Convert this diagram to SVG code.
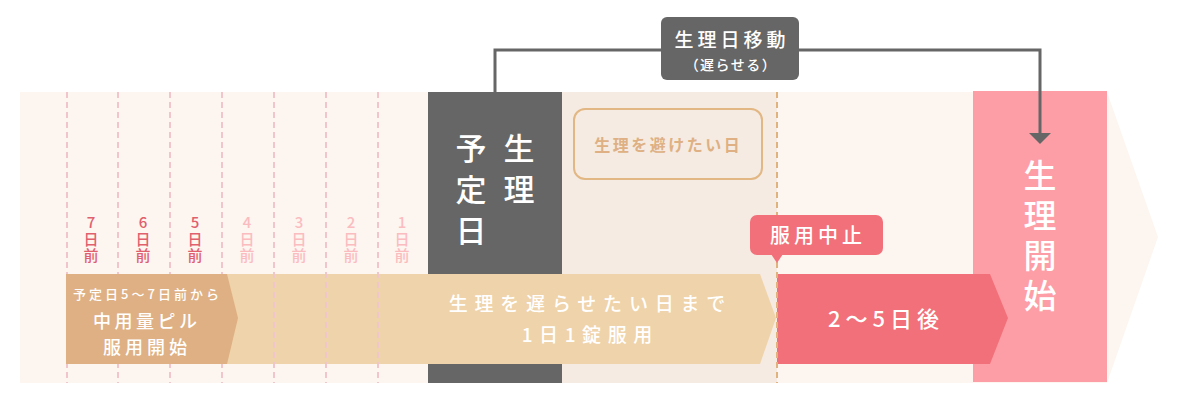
<svg xmlns="http://www.w3.org/2000/svg" width="1180" height="400" viewBox="0 0 1180 400">
<style>
text{font-family:"Noto Sans CJK JP","Noto Sans",sans-serif;}
.w{fill:#ffffff;text-anchor:middle;font-weight:500;}
.v{fill:#ffffff;font-weight:500;writing-mode:vertical-rl;text-orientation:upright;}
.dd{fill:#e0606e;font-size:15px;font-weight:500;writing-mode:vertical-rl;text-orientation:upright;letter-spacing:1.5px;}
.dl{fill:#fbbcc0;font-size:15px;font-weight:500;writing-mode:vertical-rl;text-orientation:upright;letter-spacing:1.5px;}
.dash{stroke:#f0c6cc;stroke-width:2;stroke-dasharray:6 4;fill:none;}
</style>
<rect width="1180" height="400" fill="#ffffff"/>
<g id="background">
<polygon points="20,92 1107,92 1158,237 1107,383 20,383" fill="#fdf5f0"/>
<rect x="562" y="92" width="215" height="291" fill="#f5ebe2"/>
</g>
<g id="scheduled-day">
<rect x="428" y="92" width="134" height="291" fill="#666666"/>
<text class="v" x="471" y="133" font-size="31" letter-spacing="10">予定日</text>
<text class="v" x="519" y="133" font-size="31" letter-spacing="10">生理</text>
</g>
<g id="period-start">
<rect x="973" y="91" width="134" height="291" fill="#fd9ea6"/>
<text class="v" x="1040" y="159" font-size="33" letter-spacing="7">生理開始</text>
</g>
<g id="bar-delay">
<polygon points="66,274 760,274 776,318 760,364 66,364" fill="#efd3aa"/>
<text class="w" x="590.4" y="311" font-size="19" letter-spacing="6.8">生理を遅らせたい日まで</text>
<text class="w" x="590.3" y="342" font-size="19" letter-spacing="6.6">1日1錠服用</text>
</g>
<g id="day-grid">
<line class="dash" x1="67" y1="92" x2="67" y2="383"/>
<line class="dash" x1="118" y1="92" x2="118" y2="383"/>
<line class="dash" x1="170" y1="92" x2="170" y2="383"/>
<line class="dash" x1="222" y1="92" x2="222" y2="383"/>
<line class="dash" x1="274" y1="92" x2="274" y2="383"/>
<line class="dash" x1="326" y1="92" x2="326" y2="383"/>
<line class="dash" x1="378" y1="92" x2="378" y2="383"/>
</g>
<g id="day-labels">
<text class="dd" x="91" y="215">7日前</text>
<text class="dd" x="143" y="215">6日前</text>
<text class="dd" x="195" y="215">5日前</text>
<text class="dl" x="247" y="215">4日前</text>
<text class="dl" x="299" y="215">3日前</text>
<text class="dl" x="351" y="215">2日前</text>
<text class="dl" x="402" y="215">1日前</text>
</g>
<g id="bar-start">
<polygon points="66,274 227,274 238,318 227,364 66,364" fill="#deb083"/>
<text class="w" x="147.5" y="299" font-size="13" letter-spacing="3">予定日5〜7日前から</text>
<text class="w" x="146.7" y="328" font-size="18" letter-spacing="3.5">中用量ピル</text>
<text class="w" x="147" y="354" font-size="18" letter-spacing="4">服用開始</text>
</g>
<g id="avoid-day">
<rect x="574" y="109" width="188" height="70" rx="11" fill="#f5ebe2" stroke="#e2b784" stroke-width="2"/>
<text x="668.2" y="151" font-size="16" font-weight="700" fill="#deb083" text-anchor="middle" letter-spacing="2.5">生理を避けたい日</text>
</g>
<g id="bar-after">
<polygon points="777,274 990,274 1008,318 990,364 777,364" fill="#f27079"/>
<text class="w" x="886" y="327" font-size="22" letter-spacing="5">2〜5日後</text>
</g>
<g id="stop-line">
<line x1="777" y1="92" x2="777" y2="383" stroke="#dfb27e" stroke-width="2" stroke-dasharray="6 4"/>
</g>
<g id="stop-tag">
<rect x="750" y="215" width="133" height="40" rx="7" fill="#f27079"/>
<polygon points="771,254 783,254 777,263" fill="#f27079"/>
<text class="w" x="818" y="243" font-size="20" letter-spacing="4">服用中止</text>
</g>
<g id="connectors">
<path d="M495,92 V50 H1040 V134" fill="none" stroke="#666666" stroke-width="3"/>
<polygon points="1029,133 1051,133 1040,144" fill="#666666"/>
</g>
<g id="shift-label">
<rect x="661" y="17" width="138" height="63" rx="6" fill="#666666"/>
<text class="w" x="732" y="47" font-size="19" letter-spacing="4">生理日移動</text>
<text class="w" x="731" y="70" font-size="14" letter-spacing="1.5">（遅らせる）</text>
</g>
</svg>
